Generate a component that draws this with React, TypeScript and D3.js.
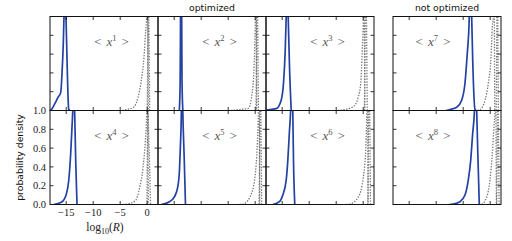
import React from 'react';
import * as d3 from 'd3';

type Pt = [number, number];

// axis values
const xTicks = [-15, -10, -5, 0];
const yTicks = [0, 0.2, 0.4, 0.6, 0.8, 1.0];
const xDomain: [number, number] = [-18, 2];
const columnTitles = ['optimized', 'not optimized'];
// moment shown in each panel, row by row
const momentLabels = ['1', '2', '3', '7', '4', '5', '6', '8'];

// blue curves (optimized estimator)
const blue1: Pt[] = [[-18, 0.0], [-17.76, 0.01], [-17.13, 0.07], [-16.52, 0.14], [-16.02, 0.19], [-15.78, 0.39], [-15.54, 0.71], [-15.41, 0.99], [-15.22, 1.3], [-15.04, 1.0], [-14.8, 0.43], [-14.54, 0.015], [-14.35, 0]];
const blue2: Pt[] = [[-14.05, 0], [-13.9, 0.3], [-13.72, 2.0], [-13.55, 0.3], [-13.4, 0]];
const blue3: Pt[] = [[-18, 0.005], [-16.11, 0.02], [-15.19, 0.11], [-14.76, 0.29], [-14.44, 0.64], [-14.26, 0.99], [-14.08, 1.4], [-13.89, 1.0], [-13.65, 0.47], [-13.33, 0]];
const blue7: Pt[] = [[-8.2, 0], [-7.44, 0.01], [-6.2, 0.034], [-5.28, 0.11], [-4.67, 0.29], [-4.24, 0.61], [-3.93, 0.89], [-3.7, 1.3], [-3.43, 1.0], [-3.24, 0.54], [-2.81, 0.01], [-2.6, 0]];
const blue4: Pt[] = [[-17.3, 0], [-15.91, 0.023], [-14.98, 0.11], [-14.54, 0.25], [-14.17, 0.54], [-13.93, 0.82], [-13.8, 0.98], [-13.62, 1.4], [-13.43, 0.98], [-13.24, 0.47], [-13.0, 0]];
const blue5: Pt[] = [[-17.41, 0], [-15.87, 0.03], [-14.94, 0.083], [-14.33, 0.19], [-14.02, 0.37], [-13.83, 0.65], [-13.7, 0.9], [-13.55, 1.5], [-13.41, 1.0], [-13.15, 0.5], [-12.91, 0]];
const blue6: Pt[] = [[-16.74, 0], [-15.5, 0.03], [-14.89, 0.1], [-14.26, 0.26], [-13.96, 0.47], [-13.65, 0.79], [-13.46, 0.97], [-13.25, 1.4], [-13.04, 1.0], [-12.91, 0.47], [-12.67, 0]];
const blue8: Pt[] = [[-7.6, 0], [-7.13, 0.002], [-5.59, 0.03], [-4.67, 0.101], [-4.06, 0.26], [-3.61, 0.47], [-3.24, 0.76], [-2.94, 0.97], [-2.72, 1.35], [-2.5, 1.0], [-2.31, 0.58], [-2.02, 0]];

// grey dotted curves (reference), broad and narrow
const broad1: Pt[] = [[-4.6, 0], [-3.87, 0.01], [-2.63, 0.03], [-1.7, 0.14], [-1.09, 0.32], [-0.59, 0.57], [-0.28, 0.85], [-0.09, 1.0], [0.02, 1.3], [0.12, 1.0], [0.2, 0]];
const narrow1: Pt[] = [[0.0, 0], [0.08, 0.5], [0.16, 1.6], [0.3, 1.0], [0.46, 0]];
const broad2: Pt[] = [[-4.5, 0], [-3.74, 0.005], [-1.28, 0.023], [-0.65, 0.15], [-0.22, 0.46], [0.02, 0.96], [0.1, 1.3], [0.2, 1.0], [0.28, 0]];
const narrow2: Pt[] = [[0.12, 0], [0.22, 0.5], [0.32, 1.6], [0.45, 1.0], [0.6, 0]];
const broad3: Pt[] = [[-4.7, 0], [-3.98, 0.005], [-1.83, 0.04], [-0.91, 0.146], [-0.46, 0.29], [-0.17, 0.64], [0.02, 0.98], [0.1, 1.3], [0.2, 1.0], [0.3, 0]];
const narrow3: Pt[] = [[0.22, 0], [0.33, 0.6], [0.45, 1.6], [0.6, 1.0], [0.75, 0]];
const broad7: Pt[] = [[-2.4, 0], [-1.89, 0.01], [-0.96, 0.11], [-0.35, 0.29], [0.15, 0.57], [0.39, 0.89], [0.57, 1.0], [0.68, 1.3], [0.76, 1.0], [0.84, 0]];
const narrow7: Pt[] = [[1.1, 0], [1.2, 0.6], [1.3, 1.6], [1.4, 1.0], [1.5, 0]];
const broad4: Pt[] = [[-4.5, 0], [-3.87, 0.003], [-2.2, 0.04], [-1.39, 0.18], [-0.78, 0.39], [-0.35, 0.67], [-0.09, 0.96], [0.0, 1.3], [0.1, 1.0], [0.2, 0]];
const narrow4: Pt[] = [[-0.05, 0], [0.05, 0.7], [0.14, 1.5], [0.22, 0.95], [0.4, 0.5], [0.62, 0]];
const broad5: Pt[] = [[-2.9, 0], [-2.2, 0.005], [-0.96, 0.08], [-0.04, 0.29], [0.39, 0.65], [0.57, 0.93], [0.68, 1.3], [0.76, 1.0], [0.84, 0]];
const narrow5: Pt[] = [[0.72, 0], [0.82, 0.6], [0.92, 1.6], [1.05, 1.0], [1.2, 0]];
const broad6: Pt[] = [[-3.1, 0], [-2.44, 0.005], [-0.91, 0.08], [0.02, 0.29], [0.52, 0.65], [0.65, 0.93], [0.76, 1.3], [0.84, 1.0], [0.92, 0]];
const narrow6: Pt[] = [[0.85, 0], [0.95, 0.6], [1.05, 1.6], [1.2, 1.0], [1.35, 0]];
const broad8: Pt[] = [[-2.1, 0], [-1.57, 0.003], [-0.65, 0.08], [-0.04, 0.26], [0.39, 0.54], [0.7, 0.83], [0.89, 1.0], [0.98, 1.3], [1.06, 1.0], [1.14, 0]];
const narrow8: Pt[] = [[1.2, 0], [1.3, 0.6], [1.4, 1.6], [1.5, 1.0], [1.65, 0]];

const blues = [blue1, blue2, blue3, blue7, blue4, blue5, blue6, blue8];
const broads = [broad1, broad2, broad3, broad7, broad4, broad5, broad6, broad8];
const narrows = [narrow1, narrow2, narrow3, narrow7, narrow4, narrow5, narrow6, narrow8];

// layout
const W = 512;
const H = 241;
const colX = [50, 158, 266, 393];
const rowY = [16.5, 110.5];
const PW = 108;
const PH = 94;
const TICK = 3.5;
const labelFrac = [0.57, 0.57, 0.57, 0.37];

const BLUE = '#2241a3';
const GREY = '#7a7a7a';
const SERIF = '"Liberation Serif", "DejaVu Serif", serif';
const SANS = '"DejaVu Sans", sans-serif';

const x = d3.scaleLinear().domain(xDomain).range([0, PW]);
const y = d3.scaleLinear().domain([0, 1]).range([PH, 0]);
const line = d3.line<Pt>().x(d => x(d[0])).y(d => y(d[1])).curve(d3.curveMonotoneX);

const fmtY = d3.format('.1f');
const fmtX = (v: number) => (v < 0 ? '\u2212' + Math.abs(v) : String(v));

function Panel({ i }: { i: number }) {
  const row = Math.floor(i / 4);
  const col = i % 4;
  const left = col === 0;
  const bottomLabels = row === 1 && col === 0;
  return (
    <g transform={`translate(${colX[col]},${rowY[row]})`}>
      <g clipPath="url(#panelClip)">
        <path d={line(broads[i]) || ''} fill="none" stroke={GREY} strokeWidth={1.3} strokeDasharray="1.4 1.4" />
        <path d={line(narrows[i]) || ''} fill="none" stroke={GREY} strokeWidth={1.3} strokeDasharray="1.4 1.4" />
        <path d={line(blues[i]) || ''} fill="none" stroke={BLUE} strokeWidth={1.7} strokeLinejoin="round" />
      </g>
      {xTicks.map(t => (
        <g key={'x' + t} stroke="#000" strokeWidth={0.8}>
          <line x1={x(t)} x2={x(t)} y1={PH} y2={PH - TICK} />
          <line x1={x(t)} x2={x(t)} y1={0} y2={TICK} />
        </g>
      ))}
      {yTicks.map(t => (
        <g key={'y' + t} stroke="#000" strokeWidth={0.8}>
          <line x1={0} x2={TICK} y1={y(t)} y2={y(t)} />
          <line x1={PW} x2={PW - TICK} y1={y(t)} y2={y(t)} />
        </g>
      ))}
      <rect x={0} y={0} width={PW} height={PH} fill="none" stroke="#111" strokeWidth={1} />
      {left && row === 1 && yTicks.map(t => (
        <text key={'yl' + t} x={-4} y={y(t)} dy="0.35em" textAnchor="end"
          fontFamily={SERIF} fontSize={10.5} fill="#222">{fmtY(t)}</text>
      ))}
      {bottomLabels && xTicks.map(t => (
        <text key={'xl' + t} x={x(t)} y={PH + 11} textAnchor="middle"
          fontFamily={SERIF} fontSize={10.5} fill="#222">{fmtX(t)}</text>
      ))}
      <text x={PW * labelFrac[col]} y={29.5} textAnchor="middle" fontFamily={SERIF} fontSize={13} fill="#555">
        <tspan>{'<'}</tspan>
        <tspan dx={5} fontStyle="italic">x</tspan>
        <tspan dy={-5} fontSize={8.5}>{momentLabels[i]}</tspan>
        <tspan dy={5} dx={5}>{'>'}</tspan>
      </text>
    </g>
  );
}

export default function App() {
  return (
    <svg width={W} height={H} style={{ position: 'absolute', left: 0, top: 0, background: '#fff' }}>
      <defs>
        <clipPath id="panelClip">
          <rect x={0} y={0} width={PW} height={PH} />
        </clipPath>
      </defs>
      {d3.range(8).map(i => <Panel key={i} i={i} />)}
      <text x={colX[1] + PW / 2} y={10.5} textAnchor="middle" fontFamily={SANS} fontSize={9.3} fill="#111">{columnTitles[0]}</text>
      <text x={colX[3] + PW / 2} y={10.5} textAnchor="middle" fontFamily={SANS} fontSize={9.3} fill="#111">{columnTitles[1]}</text>
      <text transform={`translate(23,${rowY[1] + PH / 2}) rotate(-90)`} textAnchor="middle"
        fontFamily={SANS} fontSize={9.3} fill="#111">probability density</text>
      <text x={colX[0] + PW / 2 + 1} y={231} textAnchor="middle" fontFamily={SERIF} fontSize={11.5} fill="#222">
        <tspan>log</tspan>
        <tspan dy={3} fontSize={8}>10</tspan>
        <tspan dy={-3}>(</tspan>
        <tspan fontStyle="italic">R</tspan>
        <tspan>)</tspan>
      </text>
    </svg>
  );
}
